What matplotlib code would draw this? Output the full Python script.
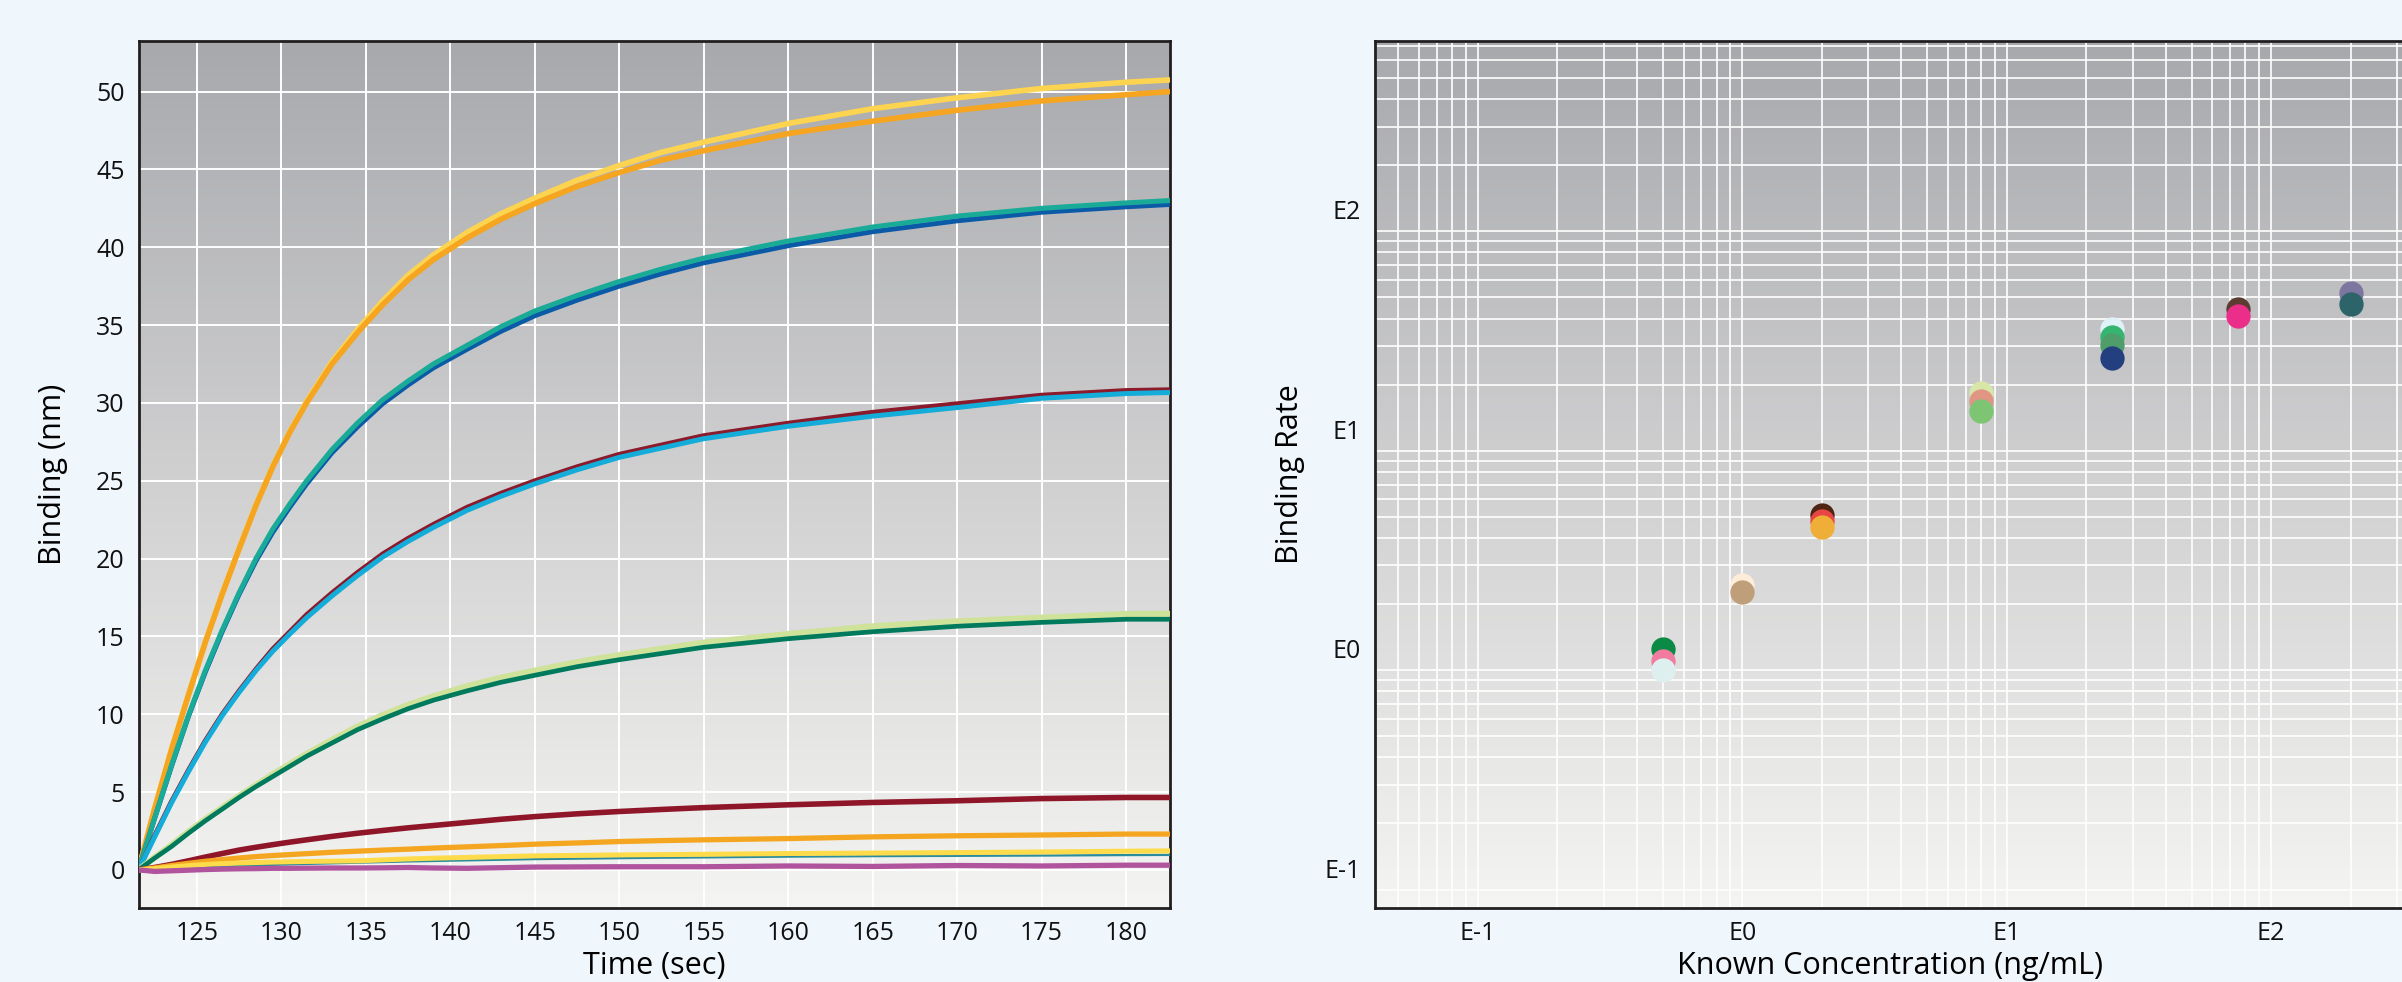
import numpy as np
import matplotlib
matplotlib.use("Agg")
import matplotlib.pyplot as plt
from matplotlib.ticker import FixedLocator, FixedFormatter, NullFormatter, LogLocator
from matplotlib.colors import LinearSegmentedColormap

# ---------------- data: left panel (binding curves) ----------------
time_sec = [121.55, 122.5, 123.5, 124.5, 125.5, 126.5, 127.5, 128.5, 129.5, 130.5,
            131.5, 133, 134.5, 136, 137.5, 139, 141, 143, 145, 147.5,
            150, 152.5, 155, 160, 165, 170, 175, 180, 182.6]

yellow_top = [0, 3.95, 7.75, 11.25, 14.65, 17.75, 20.65, 23.45, 25.95, 28.15,
              30.1, 32.65, 34.7, 36.55, 38.2, 39.5, 40.95, 42.15, 43.15, 44.3,
              45.25, 46.1, 46.75, 47.95, 48.9, 49.6, 50.2, 50.6, 50.75]
orange_top = [0, 3.9, 7.7, 11.2, 14.6, 17.7, 20.6, 23.4, 25.9, 28.1,
              30.0, 32.5, 34.5, 36.3, 37.9, 39.2, 40.6, 41.8, 42.8, 43.9,
              44.8, 45.6, 46.2, 47.3, 48.1, 48.8, 49.4, 49.8, 50.0]
teal_a = [0, 3.3, 6.7, 9.9, 12.8, 15.4, 17.8, 20.0, 21.9, 23.5,
          25.0, 27.0, 28.7, 30.2, 31.4, 32.5, 33.7, 34.9, 35.9, 36.9,
          37.8, 38.6, 39.3, 40.4, 41.3, 42.0, 42.5, 42.85, 43.0]
blue_a = [0, 3.3, 6.65, 9.85, 12.7, 15.3, 17.7, 19.85, 21.7, 23.3,
          24.8, 26.8, 28.45, 29.95, 31.15, 32.25, 33.45, 34.6, 35.6, 36.6,
          37.5, 38.3, 39.0, 40.1, 41.0, 41.7, 42.25, 42.6, 42.75]
darkred_a = [0, 2.2, 4.4, 6.4, 8.3, 10.0, 11.5, 12.9, 14.2, 15.3,
             16.4, 17.8, 19.1, 20.3, 21.3, 22.2, 23.3, 24.2, 25.0, 25.9,
             26.7, 27.3, 27.9, 28.7, 29.4, 29.95, 30.5, 30.8, 30.85]
cyan_a = [0, 2.1, 4.3, 6.3, 8.2, 9.9, 11.4, 12.8, 14.05, 15.15,
          16.2, 17.6, 18.9, 20.1, 21.1, 22.0, 23.1, 24.0, 24.8, 25.7,
          26.5, 27.1, 27.7, 28.5, 29.15, 29.7, 30.3, 30.6, 30.67]
lightgreen_a = [0, 0.8, 1.6, 2.45, 3.25, 4.0, 4.75, 5.45, 6.15, 6.8,
                7.45, 8.35, 9.2, 9.95, 10.6, 11.15, 11.8, 12.35, 12.8, 13.35,
                13.8, 14.2, 14.6, 15.15, 15.65, 15.97, 16.2, 16.44, 16.45]
darkgreen_a = [0, 0.75, 1.5, 2.35, 3.15, 3.9, 4.65, 5.35, 6.0, 6.65,
               7.3, 8.15, 9.0, 9.7, 10.35, 10.9, 11.5, 12.05, 12.5, 13.05,
               13.5, 13.9, 14.3, 14.85, 15.3, 15.65, 15.9, 16.1, 16.1]
darkred_low = [0, 0.15, 0.35, 0.58, 0.82, 1.05, 1.27, 1.45, 1.62, 1.78,
               1.93, 2.15, 2.35, 2.53, 2.7, 2.85, 3.05, 3.25, 3.42, 3.6,
               3.75, 3.88, 4.0, 4.18, 4.33, 4.44, 4.58, 4.65, 4.65]
orange_low = [0, 0.12, 0.28, 0.42, 0.55, 0.66, 0.76, 0.85, 0.92, 0.98,
              1.04, 1.13, 1.2, 1.27, 1.33, 1.4, 1.48, 1.56, 1.65, 1.73,
              1.82, 1.88, 1.93, 2.01, 2.12, 2.19, 2.24, 2.3, 2.3]
yellow_low = [0, 0.08, 0.18, 0.27, 0.35, 0.4, 0.44, 0.47, 0.5, 0.52,
              0.54, 0.56, 0.58, 0.64, 0.7, 0.75, 0.8, 0.85, 0.9, 0.93,
              0.96, 0.98, 1.0, 1.05, 1.08, 1.11, 1.15, 1.2, 1.22]
teal_low = [0, 0.05, 0.1, 0.15, 0.2, 0.23, 0.26, 0.29, 0.32, 0.35,
            0.38, 0.42, 0.46, 0.5, 0.54, 0.57, 0.61, 0.65, 0.69, 0.72,
            0.75, 0.78, 0.8, 0.85, 0.88, 0.9, 0.92, 0.95, 0.96]
purple_low = [0, -0.1, -0.06, -0.02, 0.02, 0.05, 0.07, 0.08, 0.1, 0.1,
              0.11, 0.12, 0.12, 0.13, 0.15, 0.12, 0.1, 0.14, 0.18, 0.19,
              0.2, 0.2, 0.2, 0.25, 0.22, 0.28, 0.25, 0.3, 0.3]

left_xticks = [125, 130, 135, 140, 145, 150, 155, 160, 165, 170, 175, 180]
left_yticks = [0, 5, 10, 15, 20, 25, 30, 35, 40, 45, 50]

# ---------------- data: right panel (binding rate vs concentration) ----------------
conc_points = [0.5, 0.5, 0.5, 1.0, 1.0, 2.0, 2.0, 2.0, 8.0, 8.0, 8.0,
               25, 25, 25, 25, 75, 75, 200, 200]
rate_points = [1.0, 0.878, 0.80, 1.96, 1.82, 4.09, 3.82, 3.58, 14.7, 13.5, 12.1,
               28.8, 26.4, 24.2, 21.2, 35.4, 33.0, 42.0, 37.4]
point_colors = ["#0b8a45", "#f27ba0", "#ddf0ef", "#fdecd8", "#bf9f7a",
                "#4e2513", "#e84545", "#efae37", "#d8e6a8", "#e09585", "#7dc573",
                "#dff2f7", "#35b56f", "#4e9d6a", "#233f80", "#5c3b30", "#ea2e8a",
                "#7c76a0", "#2c6469"]
right_ticks = [0.1, 1, 10, 100]
right_ticklabels = ["E-1", "E0", "E1", "E2"]
right_ygrid = [0.08, 0.16, 0.24, 0.32, 0.40, 0.48, 0.56, 0.64, 0.72,
               0.8, 1.6, 2.4, 3.2, 4.0, 4.8, 5.6, 6.4, 7.2,
               8, 16, 24, 32, 40, 48, 56, 64, 72,
               80, 160, 240, 320, 400, 480, 560]

# ---------------- styling ----------------
FONT = ["Open Sans", "DejaVu Sans"]
plt.rcParams["font.family"] = FONT
FIG_BG = "#eff6fc"
SPINE = "#231f20"
W, H = 2402, 982
fig = plt.figure(figsize=(W / 100, H / 100), dpi=100, facecolor=FIG_BG)

grad_cmap = LinearSegmentedColormap.from_list(
    "g", [(0.0, "#f4f4f2"), (0.5, "#d0d0d1"), (1.0, "#a8a9ad")])
grad = np.linspace(0, 1, 256).reshape(-1, 1)


def px_rect(x0, y0, x1, y1):
    return [x0 / W, 1 - y1 / H, (x1 - x0) / W, (y1 - y0) / H]


def add_panel(rect):
    bg = fig.add_axes(rect, zorder=0)
    bg.imshow(grad, extent=[0, 1, 0, 1], origin="lower", aspect="auto",
              cmap=grad_cmap, interpolation="bicubic")
    bg.set_axis_off()
    ax = fig.add_axes(rect, zorder=1)
    ax.patch.set_alpha(0)
    ax.set_axisbelow(True)
    for s in ax.spines.values():
        s.set_color(SPINE)
        s.set_linewidth(2.0)
    ax.tick_params(which="both", length=0, labelsize=18, colors="#111111")
    return ax


# ---------------- left panel ----------------
ax1 = add_panel(px_rect(138.5, 41, 1170, 908))
ax1.set_xlim(121.55, 182.6)
ax1.set_ylim(-2.45, 53.25)
ax1.set_xticks(left_xticks)
ax1.set_yticks(left_yticks)
ax1.grid(True, color="white", lw=1.4)
ax1.tick_params(axis="x", pad=9)
ax1.tick_params(axis="y", pad=10)

series = [
    (yellow_top, "#fdd450", 4.0), (orange_top, "#f5a51f", 4.0),
    (blue_a, "#0b5aa8", 3.6), (teal_a, "#1aab98", 3.6),
    (darkred_a, "#8b1a2b", 3.4), (cyan_a, "#14acd9", 3.6),
    (lightgreen_a, "#cfe29a", 4.4), (darkgreen_a, "#007a5c", 3.4),
    (darkred_low, "#8f1628", 4.0), (orange_low, "#f5a620", 3.8),
    (teal_low, "#2a8c9c", 1.6), (yellow_low, "#fedb4a", 3.6),
    (purple_low, "#b0549e", 3.8),
]
for vals, col, lw in series:
    ax1.plot(time_sec, vals, color=col, lw=lw, solid_capstyle="butt",
             solid_joinstyle="round", zorder=3)

ax1.set_xlabel("Time (sec)", fontsize=22)
ax1.set_ylabel("Binding (nm)", fontsize=22)
ax1.xaxis.set_label_coords(0.5, -0.050)
ax1.yaxis.set_label_coords(-0.068, 0.5)

# ---------------- right panel ----------------
ax2 = add_panel(px_rect(1375, 41, 2402, 908))
ax2.spines["right"].set_visible(False)
ax2.set_xscale("log")
ax2.set_yscale("log")
ax2.set_xlim(10 ** -1.389, 10 ** 2.495)
ax2.set_ylim(10 ** -1.181, 10 ** 2.770)
ax2.xaxis.set_major_locator(FixedLocator(right_ticks))
ax2.xaxis.set_major_formatter(FixedFormatter(right_ticklabels))
ax2.xaxis.set_minor_locator(LogLocator(base=10, subs=np.arange(1, 10), numticks=30))
ax2.xaxis.set_minor_formatter(NullFormatter())
ax2.yaxis.set_major_locator(FixedLocator(right_ticks))
ax2.yaxis.set_major_formatter(FixedFormatter(right_ticklabels))
ax2.yaxis.set_minor_locator(FixedLocator(right_ygrid))
ax2.yaxis.set_minor_formatter(NullFormatter())
ax2.grid(True, which="both", axis="x", color="white", lw=1.2)
ax2.grid(True, which="minor", axis="y", color="white", lw=1.2)
ax2.tick_params(axis="x", pad=9)
ax2.tick_params(axis="y", pad=10)

for cx, ry, col in zip(conc_points, rate_points, point_colors):
    ax2.plot([cx], [ry], "o", color=col, markersize=17.5, markeredgewidth=0,
             zorder=3, clip_on=False)

ax2.set_xlabel("Known Concentration (ng/mL)", fontsize=22)
ax2.set_ylabel("Binding Rate", fontsize=22)
ax2.xaxis.set_label_coords((1890 - 1375) / (2402 - 1375), -0.050)
ax2.yaxis.set_label_coords(-0.068, 0.5)

fig.savefig("out.png", dpi=100, facecolor=FIG_BG)
